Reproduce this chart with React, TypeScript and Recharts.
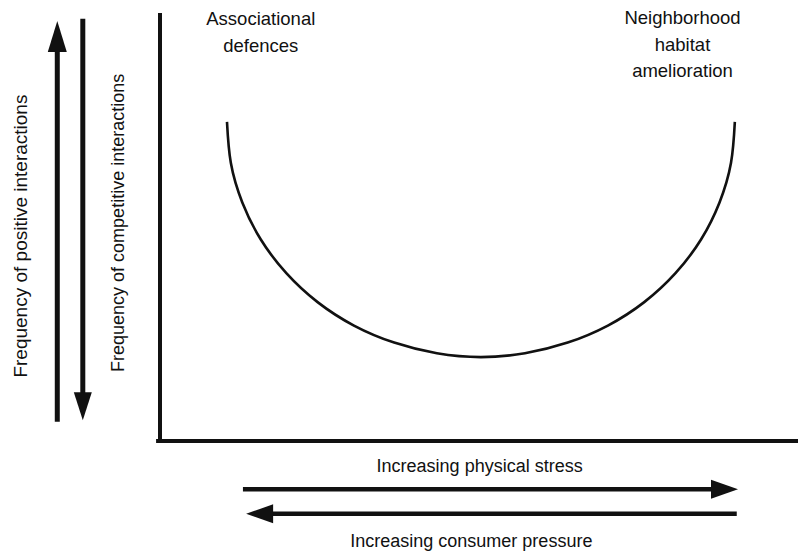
import { LineChart, Line, XAxis, YAxis, ReferenceLine, ReferenceDot } from 'recharts'

// U-shaped curve (x = physical stress, y = interaction frequency, 0-100)
const stress = [10.5, 11.1, 12.9, 15.8, 19.8, 24.7, 30.4, 36.7, 43.4, 50.3, 57.2, 63.9, 70.2, 75.9, 80.8, 84.8, 87.7, 89.5, 90.1]
const frequency = [74.9, 65.3, 56.0, 47.3, 39.4, 32.6, 27.1, 23.1, 20.6, 19.7, 20.6, 23.1, 27.1, 32.6, 39.4, 47.3, 56.0, 65.3, 74.9]

const leftNote = ['Associational', 'defences']
const rightNote = ['Neighborhood', 'habitat', 'amelioration']
const xLabels = ['Increasing physical stress', 'Increasing consumer pressure']
const yLabels = ['Frequency of positive interactions', 'Frequency of competitive interactions']

const data = stress.map((s, i) => ({ stress: s, freq: frequency[i] }))

const INK = '#111'
const FONT = '"Liberation Sans", Arial, Helvetica, sans-serif'

// line from (x1,y1) to a filled arrowhead at (x2,y2)
function arrow(headLen: number, headHalf: number, width: number) {
  return (p: any) => {
    const { x1, y1, x2, y2 } = p
    const dx = x2 - x1
    const dy = y2 - y1
    const len = Math.hypot(dx, dy) || 1
    const ux = dx / len
    const uy = dy / len
    const bx = x2 - ux * headLen
    const by = y2 - uy * headLen
    const nx = -uy * headHalf
    const ny = ux * headHalf
    return (
      <g>
        <line x1={x1} y1={y1} x2={bx + ux} y2={by + uy} stroke={INK} strokeWidth={width} />
        <polygon points={`${x2},${y2} ${bx + nx},${by + ny} ${bx - nx},${by - ny}`} fill={INK} />
      </g>
    )
  }
}

function note(lines: string[], gap: number, size: number, rotate = false) {
  return (p: any) => {
    const { cx, cy } = p
    const top = cy - ((lines.length - 1) * gap) / 2
    return (
      <text
        x={cx}
        y={top}
        textAnchor="middle"
        dominantBaseline="central"
        fontFamily={FONT}
        fontSize={size}
        fill={INK}
        transform={rotate ? `rotate(-90, ${cx}, ${cy})` : undefined}
      >
        {lines.map((t, i) => (
          <tspan key={t} x={cx} dy={i === 0 ? 0 : gap}>{t}</tspan>
        ))}
      </text>
    )
  }
}

export default function App() {
  return (
    <div style={{ position: 'absolute', left: 0, top: 0, width: 798, height: 552, background: '#fff' }}>
      <LineChart width={798} height={552} data={data} margin={{ top: 15, right: 0, bottom: 111, left: 160 }}>
        <XAxis dataKey="stress" type="number" domain={[0, 100]} allowDataOverflow hide />
        <YAxis type="number" domain={[0, 100]} allowDataOverflow hide />

        {/* L-shaped frame */}
        <ReferenceLine segment={[{ x: 0, y: 0 }, { x: 0, y: 100 }]} ifOverflow="visible" stroke={INK} strokeWidth={4} strokeLinecap="square" />
        <ReferenceLine segment={[{ x: -0.3, y: 0 }, { x: 100, y: 0 }]} ifOverflow="visible" stroke={INK} strokeWidth={4} strokeLinecap="square" />

        <Line dataKey="freq" type="natural" stroke={INK} strokeWidth={2.6} dot={false} isAnimationActive={false} />

        {/* double arrows left of the y axis */}
        <ReferenceLine segment={[{ x: -16.1, y: 4.5 }, { x: -16.1, y: 98.6 }]} ifOverflow="visible" shape={arrow(31, 9.5, 5)} />
        <ReferenceLine segment={[{ x: -12.1, y: 99.1 }, { x: -12.1, y: 4.9 }]} ifOverflow="visible" shape={arrow(28, 9, 5)} />

        {/* arrows under the x axis */}
        <ReferenceLine segment={[{ x: 13.0, y: -11.3 }, { x: 90.6, y: -11.3 }]} ifOverflow="visible" shape={arrow(27, 9.5, 4.5)} />
        <ReferenceLine segment={[{ x: 90.4, y: -17.1 }, { x: 13.5, y: -17.1 }]} ifOverflow="visible" shape={arrow(27, 9.5, 4.5)} />

        <ReferenceDot x={15.8} y={96.2} r={0} ifOverflow="visible" shape={note(leftNote, 27, 18.5)} />
        <ReferenceDot x={81.9} y={93.3} r={0} ifOverflow="visible" shape={note(rightNote, 26.5, 18.5)} />
        <ReferenceDot x={50.1} y={-5.9} r={0} ifOverflow="visible" shape={note([xLabels[0]], 0, 18)} />
        <ReferenceDot x={48.8} y={-23.5} r={0} ifOverflow="visible" shape={note([xLabels[1]], 0, 18)} />
        <ReferenceDot x={-21.9} y={48.1} r={0} ifOverflow="visible" shape={note([yLabels[0]], 0, 19, true)} />
        <ReferenceDot x={-6.6} y={51.2} r={0} ifOverflow="visible" shape={note([yLabels[1]], 0, 18, true)} />
      </LineChart>
    </div>
  )
}
